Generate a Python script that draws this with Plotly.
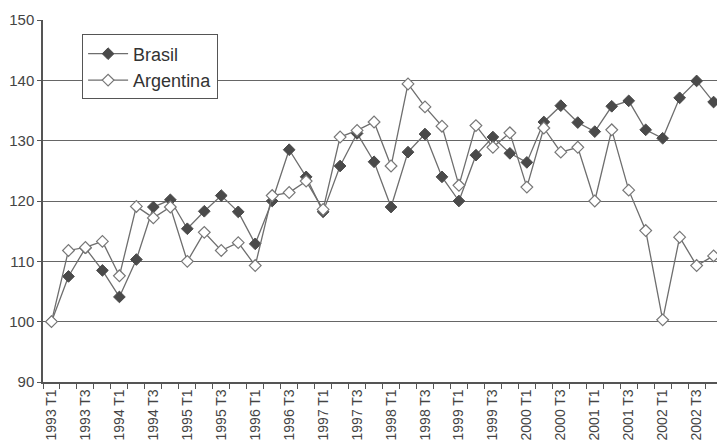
import plotly.graph_objects as go

# Quarterly index (1993 T1 = 100)
years = list(range(1993, 2003))
quarters = [f"{y} T{q}" for y in years for q in range(1, 5)]

brasil = [100.0, 107.5, 112.2, 108.5, 104.1, 110.3, 119.0, 120.2,
          115.4, 118.3, 120.9, 118.2, 112.9, 120.0, 128.5, 124.0,
          118.2, 125.8, 131.2, 126.5, 119.0, 128.1, 131.1, 124.0,
          120.0, 127.6, 130.6, 127.9, 126.4, 133.1, 135.8, 133.0,
          131.5, 135.7, 136.6, 131.8, 130.4, 137.1, 139.9, 136.4]

argentina = [100.0, 111.8, 112.3, 113.3, 107.6, 119.1, 117.2, 119.0,
             110.0, 114.8, 111.8, 113.1, 109.3, 120.9, 121.4, 123.3,
             118.6, 130.6, 131.7, 133.1, 125.8, 139.4, 135.6, 132.4,
             122.6, 132.5, 128.9, 131.3, 122.3, 132.1, 128.1, 128.9,
             120.0, 131.8, 121.8, 115.1, 100.3, 114.0, 109.3, 110.9]

tick_text = [q if i % 2 == 0 else "" for i, q in enumerate(quarters)]

LINE = "#6e6e6e"
DARK = "#4a4a4a"
FONT = "Liberation Sans, Arial, sans-serif"

fig = go.Figure()
fig.add_trace(go.Scatter(
    x=quarters, y=brasil, name="Brasil", mode="lines+markers",
    line=dict(color=LINE, width=1.3),
    marker=dict(symbol="diamond", size=9, color=DARK,
                line=dict(color=DARK, width=1)),
))
fig.add_trace(go.Scatter(
    x=quarters, y=argentina, name="Argentina", mode="lines+markers",
    line=dict(color=LINE, width=1.3),
    marker=dict(symbol="diamond", size=9, color="white",
                line=dict(color="#777777", width=1.2)),
))

fig.update_layout(
    width=717, height=447,
    margin=dict(l=43, r=0, t=20, b=65),
    paper_bgcolor="white", plot_bgcolor="white",
    font=dict(family=FONT, size=14, color="#333333"),
    showlegend=True,
    legend=dict(
        x=0.058, y=0.96, xanchor="left", yanchor="top",
        bgcolor="white", bordercolor="#555555", borderwidth=1,
        font=dict(size=18, color="#333333"),
        itemwidth=40, tracegroupgap=0,
    ),
    xaxis=dict(
        type="category",
        range=[-0.5, 39.2],
        tickmode="array", tickvals=quarters, ticktext=tick_text,
        tickson="boundaries",
        tickangle=-90,
        ticks="outside", ticklen=5, tickcolor="#555555",
        showline=True, linecolor="#555555", linewidth=1.5,
        showgrid=False, zeroline=False,
        tickfont=dict(size=14, color="#444444"),
    ),
    yaxis=dict(
        range=[90, 150], dtick=10,
        ticks="outside", ticklen=4, tickcolor="#555555",
        showline=True, linecolor="#555555", linewidth=1.5,
        showgrid=True, gridcolor="#666666", gridwidth=1.3,
        zeroline=False,
        tickfont=dict(size=15, color="#444444"),
    ),
)

fig.write_html("out.html")
